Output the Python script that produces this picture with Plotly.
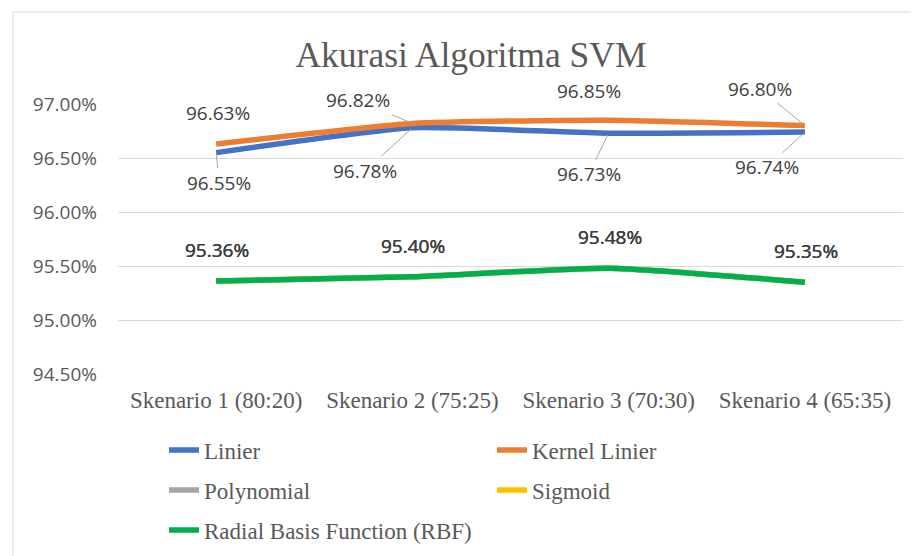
import plotly.graph_objects as go

# data
scenarios = ["Skenario 1 (80:20)", "Skenario 2 (75:25)", "Skenario 3 (70:30)", "Skenario 4 (65:35)"]
linier = [96.55, 96.78, 96.73, 96.74]
kernel_linier = [96.63, 96.82, 96.85, 96.80]
polynomial = [95.36, 95.40, 95.48, 95.35]
sigmoid = [95.36, 95.40, 95.48, 95.35]
rbf = [95.36, 95.40, 95.48, 95.35]
y_ticks = [94.5, 95.0, 95.5, 96.0, 96.5, 97.0]

SANS = "Open Sans"
SERIF = "Liberation Serif"
GRID = "#D9D9D9"

# (name, values, colour, legend, label offsets in px (dx, dy, leader line?))
series = [
    ("Linier", linier, "#4472C4", "legend",
     [(3, 30, True), (-47, 43, True), (-20, 41, True), (-38, 35, True)]),
    ("Kernel Linier", kernel_linier, "#ED7D31", "legend",
     [(2, -31, False), (-54, -23, True), (-20, -29, False), (-45, -37, True)]),
    ("Polynomial", polynomial, "#A5A5A5", "legend2",
     [(1, -31, False)] * 4),
    ("Sigmoid", sigmoid, "#FFC000", "legend2",
     [(1, -31, False)] * 4),
    ("Radial Basis Function (RBF)", rbf, "#00B050", "legend3",
     [(1, -31, False)] * 4),
]

fig = go.Figure()
annotations = []
for name, vals, color, leg, offsets in series:
    fig.add_trace(go.Scatter(
        x=scenarios, y=vals, name=name, mode="lines",
        line=dict(color=color, width=5.5, shape="spline", smoothing=0.5),
        legend=leg, hoverinfo="skip",
    ))
    for cat, v, (dx, dy, leader) in zip(scenarios, vals, offsets):
        ann = dict(x=cat, y=v, text=f"{v:.2f}%",
                   font=dict(family=SANS, size=19, color="#404040"))
        if leader:
            ann.update(showarrow=True, ax=dx, ay=dy, arrowhead=0,
                       arrowwidth=1, arrowcolor="#A6A6A6", standoff=2)
        else:
            ann.update(showarrow=False, xshift=dx, yshift=-dy)
        annotations.append(ann)


def legend_at(y):
    return dict(orientation="h", x=0.0586, y=y, xanchor="left", yanchor="middle",
                font=dict(family=SERIF, size=23, color="#595959"),
                entrywidth=283, bgcolor="rgba(0,0,0,0)", itemclick=False)


# the page body keeps its 8px default margin, so the figure is sized to fit inside it
fig.update_layout(
    width=911, height=548,
    margin=dict(l=110, r=16, t=96, b=182, autoexpand=False),
    paper_bgcolor="white", plot_bgcolor="white",
    title=dict(text="Akurasi Algoritma SVM", x=0.5082, xref="container", xanchor="center",
               y=0.9142, yref="container", yanchor="middle",
               font=dict(family=SERIF, size=35.5, color="#595959")),
    xaxis=dict(type="category", range=[-0.5, 3.5], showgrid=False, showline=False,
               tickfont=dict(family=SERIF, size=23, color="#595959"),
               ticklabelstandoff=10, fixedrange=True),
    yaxis=dict(range=[94.5, 97.0], tickvals=y_ticks,
               ticktext=[f"{t:.2f}%" for t in y_ticks],
               gridcolor=GRID, gridwidth=1, zeroline=False, showline=False,
               tickfont=dict(family=SANS, size=19, color="#595959"),
               ticklabelstandoff=20, fixedrange=True),
    legend=legend_at(-0.2815),
    legend2=legend_at(-0.4296),
    legend3=legend_at(-0.5778),
    annotations=annotations,
    shapes=[
        dict(type="line", xref="paper", yref="paper", x0=-0.1338, x1=-0.1338,
             y0=1.3407, y1=-0.7, line=dict(color=GRID, width=1)),
        dict(type="line", xref="paper", yref="paper", x0=-0.1338, x1=1.03,
             y0=1.3407, y1=1.3407, line=dict(color=GRID, width=1)),
    ],
)

fig.write_html("out.html")
